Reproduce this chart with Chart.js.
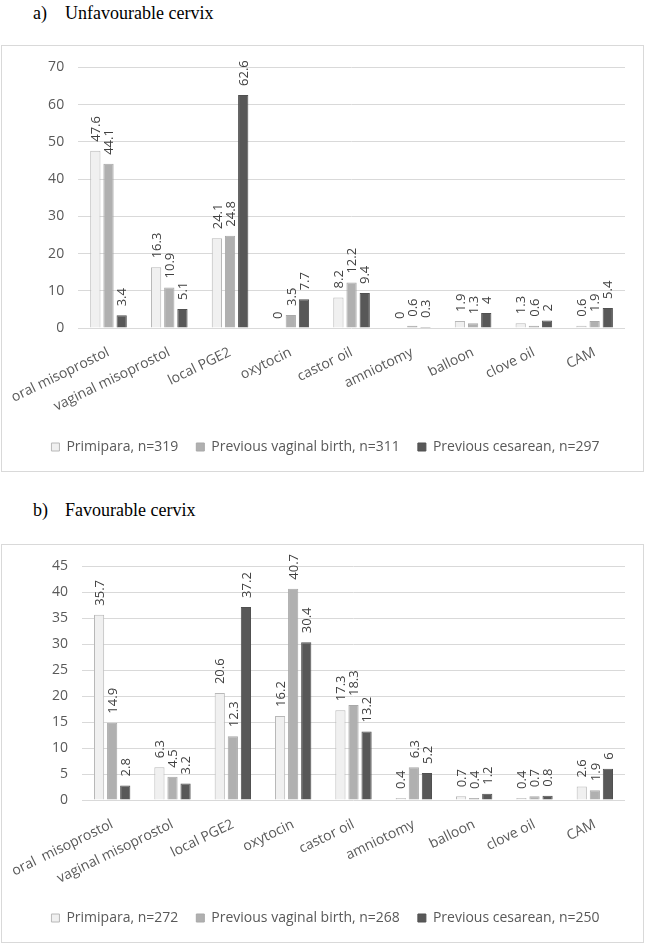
<!DOCTYPE html>
<html lang="en">
<head>
  <meta charset="utf-8">
  <title>Induction methods</title>
  <style>
    html, body { margin: 0; padding: 0; background: #fff; }
    body { width: 646px; height: 944px; position: relative; overflow: hidden; }
    .title {
      position: absolute;
      font-family: "Liberation Serif", "Times New Roman", serif;
      font-size: 18px;
      line-height: 20px;
      color: #000;
      white-space: nowrap;
    }
    .box {
      position: absolute;
      left: 1px;
      width: 643px;
      box-sizing: border-box;
      border: 1.5px solid #d9d9d9;
    }
    canvas { position: absolute; left: 0; }
  </style>
  <script src="https://cdn.jsdelivr.net/npm/chart.js"></script>
</head>
<body>
  <div class="title" style="left:33px; top:3px;">a)</div>
  <div class="title" style="left:65px; top:3px;">Unfavourable cervix</div>
  <div class="box" style="top:45px; height:427px;"></div>
  <canvas id="chartA" width="646" height="426" style="top:45px;"></canvas>

  <div class="title" style="left:33px; top:500px;">b)</div>
  <div class="title" style="left:65px; top:500px;">Favourable cervix</div>
  <div class="box" style="top:544px; height:399px;"></div>
  <canvas id="chartB" width="646" height="398" style="top:544px;"></canvas>

  <script>
    // categories
    const methodsA = ['oral misoprostol', 'vaginal misoprostol', 'local PGE2', 'oxytocin', 'castor oil',
      'amniotomy', 'balloon', 'clove oil', 'CAM'];
    const methodsB = ['oral  misoprostol', 'vaginal misoprostol', 'local PGE2', 'oxytocin', 'castor oil',
      'amniotomy', 'balloon', 'clove oil', 'CAM'];

    // a) unfavourable cervix (%)
    const primiparaA = [47.6, 16.3, 24.1, 0, 8.2, 0, 1.9, 1.3, 0.6];
    const vaginalA   = [44.1, 10.9, 24.8, 3.5, 12.2, 0.6, 1.3, 0.6, 1.9];
    const cesareanA  = [3.4, 5.1, 62.6, 7.7, 9.4, 0.3, 4, 2, 5.4];
    const seriesNamesA = ['Primipara, n=319', 'Previous vaginal birth, n=311', 'Previous cesarean, n=297'];

    // b) favourable cervix (%)
    const primiparaB = [35.7, 6.3, 20.6, 16.2, 17.3, 0.4, 0.7, 0.4, 2.6];
    const vaginalB   = [14.9, 4.5, 12.3, 40.7, 18.3, 6.3, 0.4, 0.7, 1.9];
    const cesareanB  = [2.8, 3.2, 37.2, 30.4, 13.2, 5.2, 1.2, 0.8, 6];
    const seriesNamesB = ['Primipara, n=272', 'Previous vaginal birth, n=268', 'Previous cesarean, n=250'];

    const FONT = '"Open Sans", "Noto Sans", sans-serif';
    const fills = ['#f0f0f0', '#b0b0b0', '#585858'];
    const borders = ['#b8b8b8', '#a8a8a8', '#505050'];

    // vertical value labels above each bar
    const barLabels = {
      id: 'barLabels',
      afterLayout(chart) {
        // legend sits a little right of centre in the original
        chart.legend.left += 13;
        chart.legend.right += 13;
      },
      afterDatasetsDraw(chart) {
        const ctx = chart.ctx;
        ctx.save();
        ctx.font = '13px ' + FONT;
        ctx.fillStyle = '#404040';
        ctx.textAlign = 'left';
        ctx.textBaseline = 'middle';
        chart.data.datasets.forEach((ds, i) => {
          chart.getDatasetMeta(i).data.forEach((bar, j) => {
            ctx.save();
            ctx.translate(bar.x + 1, bar.y - 9);
            ctx.rotate(-Math.PI / 2);
            ctx.fillText(String(ds.data[j]), 0, 0);
            ctx.restore();
          });
        });
        ctx.restore();
      }
    };

    function makeChart(id, labels, series, names, yMax, step, geo) {
      const datasets = series.map((vals, i) => ({
        label: names[i],
        data: vals,
        backgroundColor: fills[i],
        borderColor: borders[i],
        borderWidth: 1,
        categoryPercentage: 0.65,
        barPercentage: 0.78
      }));
      return new Chart(document.getElementById(id).getContext('2d'), {
        type: 'bar',
        data: { labels: labels, datasets: datasets },
        options: {
          responsive: false,
          animation: false,
          layout: { padding: { top: geo.top, right: geo.right, bottom: 7, left: 0 } },
          plugins: {
            tooltip: { enabled: false },
            legend: {
              position: 'bottom',
              labels: {
                boxWidth: 8,
                boxHeight: 8,
                padding: 18,
                color: '#595959',
                font: { family: FONT, size: 14 }
              }
            }
          },
          scales: {
            x: {
              grid: { display: false },
              border: { display: false },
              ticks: {
                minRotation: 26,
                maxRotation: 26,
                padding: 8,
                color: '#595959',
                font: { family: FONT, size: 14 }
              },
              afterFit(scale) { scale.height = geo.xHeight; }
            },
            y: {
              min: 0,
              max: yMax,
              grid: { color: '#d9d9d9', lineWidth: 1, drawTicks: false },
              border: { display: false },
              ticks: {
                stepSize: step,
                padding: 14,
                color: '#595959',
                font: { family: FONT, size: 14 }
              },
              afterFit(scale) { scale.width = geo.yWidth; }
            }
          }
        },
        plugins: [barLabels]
      });
    }

    makeChart('chartA', methodsA, [primiparaA, vaginalA, cesareanA], seriesNamesA, 70, 10,
      { top: 18, right: 21, xHeight: 94, yWidth: 78 });
    makeChart('chartB', methodsB, [primiparaB, vaginalB, cesareanB], seriesNamesB, 45, 5,
      { top: 15, right: 21, xHeight: 93, yWidth: 82 });
  </script>
</body>
</html>
